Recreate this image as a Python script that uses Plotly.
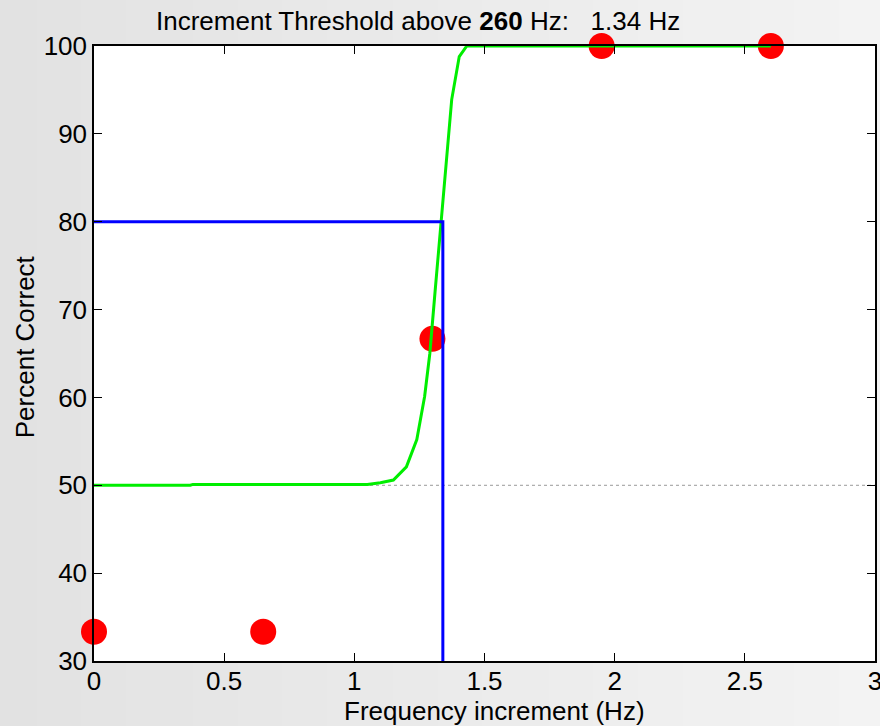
import plotly.graph_objects as go

# ---- data ----
data_x = [0.0, 0.65, 1.30, 1.95, 2.60]
data_y = [33.33, 33.33, 66.67, 100.0, 100.0]

curve_x = [0.0, 0.37, 0.38, 1.05, 1.10, 1.15, 1.20, 1.24, 1.27, 1.29, 1.31, 1.333, 1.374, 1.403, 1.432, 2.60]
curve_y = [50.0, 50.0, 50.1, 50.1, 50.3, 50.6, 52.1, 55.2, 60.1, 65.0, 72.0, 80.2, 93.9, 98.8, 100.0, 100.0]

threshold = 1.34
target_pct = 80
chance_pct = 50
base_freq = 260

x_ticks = [0, 0.5, 1, 1.5, 2, 2.5, 3]
x_tick_text = ["0", "0.5", "1", "1.5", "2", "2.5", "3"]
y_ticks = [30, 40, 50, 60, 70, 80, 90, 100]

FONT = "Liberation Sans, Arial, sans-serif"

fig = go.Figure()

# chance line
fig.add_trace(go.Scatter(x=[0, 3], y=[chance_pct, chance_pct], mode="lines",
                         line=dict(color="#9a9a9a", width=1, dash="dot"),
                         hoverinfo="skip"))
# data points
fig.add_trace(go.Scatter(x=data_x, y=data_y, mode="markers",
                         marker=dict(color="#ff0000", size=26, line=dict(width=0)),
                         cliponaxis=False))
# fitted curve
fig.add_trace(go.Scatter(x=curve_x, y=curve_y, mode="lines",
                         line=dict(color="#00ee00", width=3)))
# threshold lines
fig.add_trace(go.Scatter(x=[0, threshold, threshold], y=[target_pct, target_pct, 30],
                         mode="lines", line=dict(color="#0000ff", width=3)))

# background gradient stripes (paper)
n = 40
shapes = []
for i in range(n):
    t = i / (n - 1)
    g = int(round(0xe2 + (0xf3 - 0xe2) * t))
    col = f"rgb({g},{g},{g})"
    shapes.append(dict(type="rect", xref="paper", yref="paper",
                       x0=-0.13 + i * (1.14 / n), x1=-0.13 + (i + 1) * (1.14 / n) + 0.002,
                       y0=-0.2, y1=1.2, fillcolor=col, line=dict(width=0), layer="below"))
# white plot area on top of the stripes
shapes.append(dict(type="rect", xref="paper", yref="paper", x0=0, x1=1, y0=0, y1=1,
                   fillcolor="white", line=dict(width=0), layer="below"))

fig.update_layout(
    width=880, height=726,
    margin=dict(l=94, r=5, t=46, b=65),
    paper_bgcolor="#ececec",
    plot_bgcolor="white",
    showlegend=False,
    font=dict(family=FONT, size=26, color="black"),
    shapes=shapes,
    annotations=[
        dict(text=f"Increment Threshold above <b>{base_freq}</b> Hz:   {threshold:.2f} Hz",
             xref="paper", yref="paper", x=0.4145, y=1.0407,
             xanchor="center", yanchor="middle", showarrow=False,
             font=dict(family=FONT, size=26, color="black")),
        dict(text="Frequency increment (Hz)", xref="paper", yref="paper",
             x=0.513, y=-0.082, xanchor="center", yanchor="middle", showarrow=False,
             font=dict(family=FONT, size=26, color="black")),
        dict(text="Percent Correct", xref="paper", yref="paper", textangle=-90,
             x=-0.088, y=0.5106, xanchor="center", yanchor="middle", showarrow=False,
             font=dict(family=FONT, size=26, color="black")),
    ],
)

fig.update_xaxes(range=[0, 3], tickvals=x_ticks, ticktext=x_tick_text,
                 ticks="inside", ticklen=8, tickcolor="black", tickwidth=1,
                 showline=True, linecolor="black", linewidth=1.5, mirror="ticks",
                 showgrid=False, zeroline=False, automargin=False,
                 ticklabelstandoff=-4,
                 ticklabeloverflow="allow", tickfont=dict(size=26))
fig.update_yaxes(range=[30, 100], tickvals=y_ticks,
                 ticks="inside", ticklen=8, tickcolor="black", tickwidth=1,
                 showline=True, linecolor="black", linewidth=1.5, mirror="ticks",
                 showgrid=False, zeroline=False, automargin=False,
                 ticklabeloverflow="allow", tickfont=dict(size=26))

fig.write_html("out.html",
               config={"displayModeBar": False},
               post_script="document.body.style.margin='0';"
                           "document.body.style.overflow='hidden';"
                           "document.body.style.background='#ececec';")
